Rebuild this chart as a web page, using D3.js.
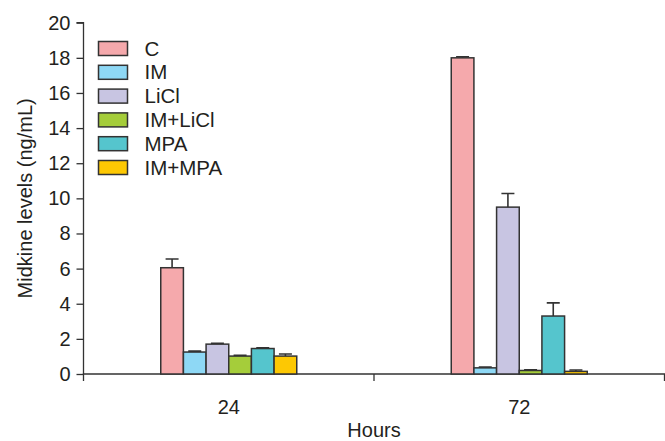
<!DOCTYPE html>
<html>
<head>
<meta charset="utf-8">
<script src="https://cdn.jsdelivr.net/npm/d3@7"></script>
<style>
  body { margin: 0; background: #fff; }
  text { font-family: "Liberation Sans", Arial, sans-serif; fill: #231f20; }
</style>
</head>
<body>
<svg id="chart" width="665" height="441"></svg>
<script>
// 数据
var hours = ['24', '72'];
var groups = ['C', 'IM', 'LiCl', 'IM+LiCl', 'MPA', 'IM+MPA'];
var colors = ['#f5a9ac', '#8ed8f5', '#c8c5e2', '#a5cd3a', '#55c5cd', '#fdc803'];
var means24 = [6.05, 1.25, 1.7, 1.02, 1.45, 1.02];
var errs24 = [0.5, 0.05, 0.05, 0.04, 0.04, 0.12];
var means72 = [18.0, 0.35, 9.5, 0.2, 3.3, 0.15];
var errs72 = [0.06, 0.04, 0.78, 0.04, 0.75, 0.08];
var yTicks = [0, 2, 4, 6, 8, 10, 12, 14, 16, 18, 20];

var means = [means24, means72], errs = [errs24, errs72];

var svg = d3.select('#chart');
var mLeft = 83.5, mRight = 664.5, mTop = 22.7, mBottom = 374;
var fs = 20;

var x0 = d3.scaleBand().domain(hours).range([mLeft, mRight]);
var x1 = d3.scaleBand().domain(groups).range([-68, 68]);
var y = d3.scaleLinear().domain([0, 20]).range([mBottom, mTop]);
var color = d3.scaleOrdinal().domain(groups).range(colors);

// y轴
var yAxis = svg.append('g')
    .attr('transform', `translate(${mLeft},0)`)
    .call(d3.axisLeft(y).tickValues(yTicks).tickSize(7).tickPadding(6));
yAxis.select('.domain').attr('d', `M-7,${mTop}H0V${mBottom}`);

// x轴
var xAxis = svg.append('g')
    .attr('transform', `translate(0,${mBottom})`)
    .call(d3.axisBottom(x0).tickSize(0).tickPadding(26));
xAxis.select('.domain').attr('d', `M${mLeft},7V0H${mRight}V7`);
xAxis.append('line')
    .attr('x1', x0('72')).attr('x2', x0('72'))
    .attr('y1', 0).attr('y2', 7);

svg.selectAll('.domain, .tick line, g line').attr('stroke', '#333').attr('stroke-width', 1.3);
svg.selectAll('.tick text').attr('font-size', fs).attr('fill', '#231f20')
    .style('font-family', '"Liberation Sans", Arial, sans-serif');

// 柱子
var barData = [];
hours.forEach((h, i) => {
    groups.forEach((g, j) => {
        barData.push({hour: h, group: g, mean: means[i][j], err: errs[i][j]});
    });
});

var bars = svg.append('g').selectAll('g')
    .data(barData)
    .enter()
    .append('g')
    .attr('transform', d => `translate(${x0(d.hour) + x0.bandwidth() / 2},0)`);

// 误差线
bars.append('path')
    .attr('d', d => {
        var cx = x1(d.group) + x1.bandwidth() / 2;
        return `M${cx},${y(d.mean)}V${y(d.mean + d.err)}M${cx - 6.5},${y(d.mean + d.err)}H${cx + 6.5}`;
    })
    .attr('stroke', '#333')
    .attr('stroke-width', 1.6)
    .attr('fill', 'none');

bars.append('rect')
    .attr('x', d => x1(d.group))
    .attr('width', x1.bandwidth())
    .attr('y', d => y(d.mean))
    .attr('height', d => y(0) - y(d.mean))
    .attr('fill', d => color(d.group))
    .attr('stroke', '#333')
    .attr('stroke-width', 1.5);

// 图例
var legend = svg.append('g').selectAll('g')
    .data(groups)
    .enter()
    .append('g')
    .attr('transform', (d, i) => `translate(98.5,${41.5 + i * 23.8})`);
legend.append('rect')
    .attr('width', 29).attr('height', 14)
    .attr('fill', d => color(d))
    .attr('stroke', '#333').attr('stroke-width', 1.5);
legend.append('text')
    .attr('x', 46).attr('y', 14)
    .attr('font-size', 20.5)
    .text(d => d);

// 坐标轴标题
svg.append('text')
    .attr('transform', `translate(32,${(mTop + mBottom) / 2}) rotate(-90)`)
    .attr('text-anchor', 'middle')
    .attr('font-size', fs)
    .text('Midkine levels (ng/mL)');
svg.append('text')
    .attr('x', (mLeft + mRight) / 2).attr('y', 437)
    .attr('text-anchor', 'middle')
    .attr('font-size', fs)
    .text('Hours');
</script>
</body>
</html>
